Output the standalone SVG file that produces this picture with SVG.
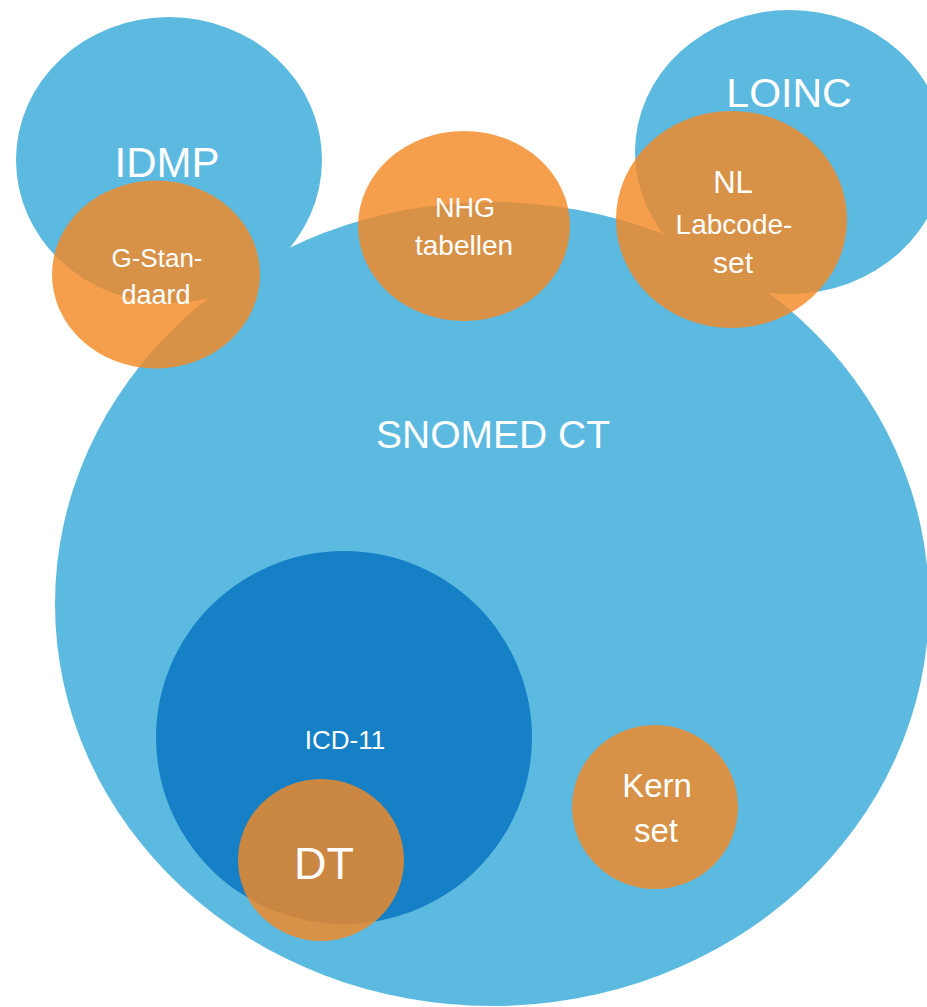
<svg xmlns="http://www.w3.org/2000/svg" width="927" height="1007" viewBox="0 0 927 1007">
<style>
.blue{fill:#5CBAE0}
.dark{fill:#1580C6}
.orange{fill:#F38924;fill-opacity:0.82}
text{font-family:"Liberation Sans",Arial,sans-serif;fill:#FFFFFF;text-anchor:middle}
</style>
<rect width="927" height="1007" fill="#FFFFFF"/>
<g id="snomed"><ellipse class="blue" cx="492" cy="604" rx="437" ry="402"/></g>
<g id="idmp"><ellipse class="blue" cx="169" cy="160" rx="153" ry="143"/></g>
<g id="loinc"><ellipse class="blue" cx="790" cy="152" rx="155" ry="142"/></g>
<g id="icd11"><ellipse class="dark" cx="344" cy="737.5" rx="188" ry="186.5"/></g>
<g id="g-standaard"><ellipse class="orange" cx="156" cy="274.5" rx="104" ry="94"/></g>
<g id="nhg"><ellipse class="orange" cx="464" cy="226" rx="106" ry="95"/></g>
<g id="nl-labcode"><ellipse class="orange" cx="731.5" cy="219.5" rx="115.5" ry="108.5"/></g>
<g id="dt"><ellipse class="orange" cx="321" cy="860" rx="83" ry="81"/></g>
<g id="kernset"><ellipse class="orange" cx="655" cy="807" rx="83" ry="82"/></g>
<g id="connectors"></g>
<g id="labels">
<text x="167" y="177" font-size="42">IDMP</text>
<text x="789" y="107" font-size="41">LOINC</text>
<text x="493" y="448" font-size="39">SNOMED CT</text>
<text x="157" y="267" font-size="26">G-Stan-</text>
<text x="156" y="304" font-size="27">daard</text>
<text x="465" y="217" font-size="27">NHG</text>
<text x="464" y="255" font-size="28">tabellen</text>
<text x="733" y="193" font-size="31">NL</text>
<text x="734" y="234" font-size="28">Labcode-</text>
<text x="733" y="273" font-size="30">set</text>
<text x="345" y="749" font-size="26">ICD-11</text>
<text x="324" y="879" font-size="45">DT</text>
<text x="657" y="797" font-size="33">Kern</text>
<text x="656" y="842" font-size="33">set</text>
</g>
</svg>
